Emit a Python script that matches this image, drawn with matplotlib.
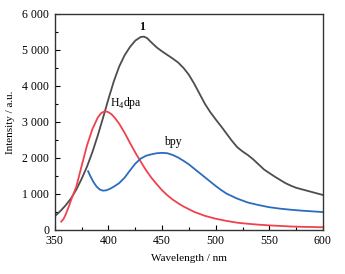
import matplotlib
matplotlib.use("Agg")
import matplotlib.pyplot as plt
from matplotlib.ticker import MultipleLocator, FuncFormatter

plt.rcParams['font.family'] = ['Liberation Serif', 'DejaVu Serif']
plt.rcParams['mathtext.fontset'] = 'custom'
plt.rcParams['mathtext.rm'] = 'Liberation Serif'

# compound 1
wl_1 = [350, 355, 360, 365, 370, 375, 380, 385, 390, 395, 400, 405, 410, 415,
        420, 425, 430, 433, 436, 440, 445, 450, 455, 460, 465, 470, 475, 480,
        485, 490, 495, 500, 505, 510, 515, 520, 525, 530, 535, 540, 545, 550,
        555, 560, 565, 570, 575, 580, 585, 590, 595, 600]
int_1 = [380, 520, 680, 870, 1120, 1420, 1760, 2160, 2620, 3120, 3640, 4130,
         4540, 4850, 5080, 5260, 5360, 5370, 5330, 5210, 5070, 4960, 4860,
         4760, 4650, 4500, 4310, 4060, 3780, 3500, 3270, 3070, 2880, 2680,
         2480, 2300, 2180, 2080, 1960, 1820, 1680, 1580, 1480, 1390, 1300,
         1230, 1170, 1130, 1090, 1050, 1010, 970]

# H4dpa
wl_h4dpa = [356, 358, 360, 363, 366, 370, 375, 380, 385, 390, 393, 396, 398,
            400, 403, 406, 410, 415, 420, 425, 430, 435, 440, 445, 450, 455,
            460, 465, 470, 480, 490, 500, 510, 520, 530, 540, 550, 560, 570,
            580, 590, 600]
int_h4dpa = [230, 300, 420, 650, 900, 1200, 1780, 2350, 2800, 3120, 3240,
             3290, 3290, 3270, 3210, 3110, 2950, 2700, 2420, 2150, 1900, 1660,
             1450, 1270, 1100, 960, 840, 740, 650, 500, 390, 310, 250, 200,
             170, 145, 125, 110, 95, 85, 80, 72]

# bpy
wl_bpy = [381, 383, 386, 389, 392, 395, 398, 402, 406, 410, 415, 420, 425,
          430, 435, 440, 445, 450, 455, 460, 465, 470, 475, 480, 485, 490,
          495, 500, 505, 510, 515, 520, 530, 540, 550, 560, 570, 580, 590, 600]
int_bpy = [1630, 1500, 1330, 1200, 1120, 1090, 1100, 1150, 1220, 1300, 1450,
           1650, 1840, 1980, 2060, 2100, 2130, 2140, 2130, 2080, 2010, 1920,
           1820, 1700, 1580, 1460, 1340, 1220, 1110, 1010, 940, 870, 760, 690,
           630, 590, 560, 535, 515, 495]

fig = plt.figure(figsize=(3.45, 2.74), dpi=100)
ax = fig.add_axes([0.159, 0.161, 0.777, 0.788])

ax.plot(wl_1, int_1, color='#4d4d4d', lw=1.3)
ax.plot(wl_h4dpa, int_h4dpa, color='#f0424c', lw=1.3)
ax.plot(wl_bpy, int_bpy, color='#2b6cbf', lw=1.3)

ax.text(431, 5460, '1', fontsize=8.5, fontweight='bold', ha='center', va='bottom')
ax.text(401, 3300, 'H$_4$dpa', fontsize=8.5, ha='left', va='bottom')
ax.text(460, 2280, 'bpy', fontsize=8.5, ha='center', va='bottom')

ax.set_xlim(350, 600)
ax.set_ylim(0, 6000)
ax.xaxis.set_major_locator(MultipleLocator(50))
ax.xaxis.set_minor_locator(MultipleLocator(25))
ax.yaxis.set_major_locator(MultipleLocator(1000))
ax.yaxis.set_minor_locator(MultipleLocator(500))
ax.yaxis.set_major_formatter(FuncFormatter(lambda v, p: f"{int(v):,}".replace(",", " ")))
ax.tick_params(which='both', direction='in', top=False, right=False,
               labelsize=8.5, width=0.8)
ax.tick_params(which='major', length=3.5)
ax.tick_params(which='minor', length=2)
ax.tick_params(axis='x', pad=4)
ax.tick_params(axis='y', pad=4)
for s in ax.spines.values():
    s.set_linewidth(1.0)
    s.set_color('#333333')

ax.set_xlabel('Wavelength / nm', fontsize=8, labelpad=5)
ax.set_ylabel('Intensity / a.u.', fontsize=8, labelpad=5)

fig.savefig('out.png', dpi=100)
